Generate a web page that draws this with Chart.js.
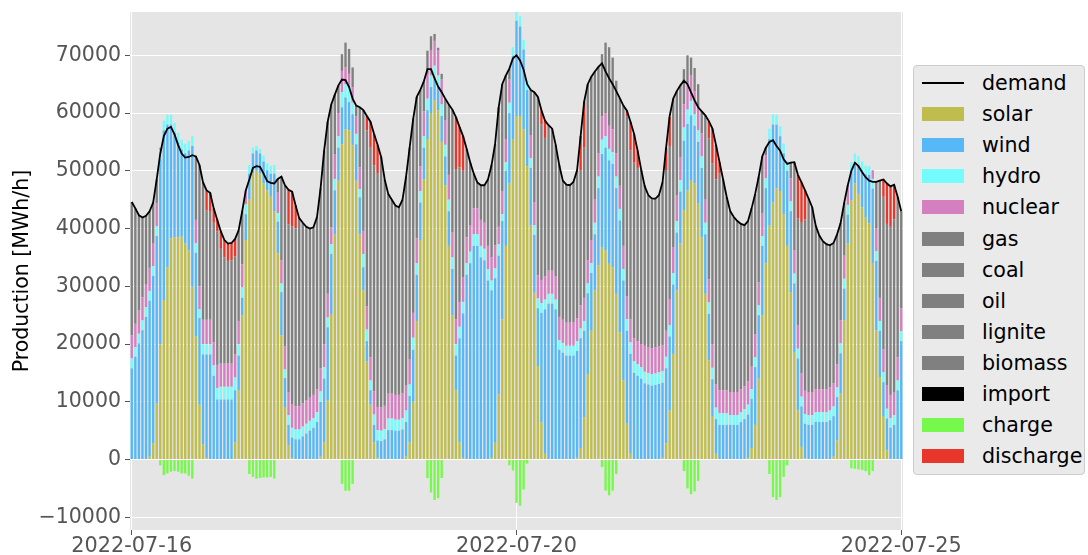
<!DOCTYPE html>
<html>
<head>
<meta charset="utf-8">
<title>Production</title>
<script src="https://cdn.jsdelivr.net/npm/chart.js@4.4.0/dist/chart.umd.min.js"></script>
<style>
    body { margin: 0; background: #ffffff; font-family: 'DejaVu Sans', sans-serif; }
    #cadre { position: relative; width: 1088px; height: 555px; }
    #legende {
        position: absolute; left: 913px; top: 65px; width: 172px; height: 410px;
        background: #eaeaea; border: 1px solid #cccccc; border-radius: 4px; box-sizing: border-box;
    }
    .entree { position: absolute; left: 0; width: 100%; height: 30px; }
    .carre { position: absolute; left: 8px; top: 8px; width: 42px; height: 14px; }
    .trait { position: absolute; left: 8px; top: 14px; width: 42px; height: 2px; }
    .texte { position: absolute; left: 68px; top: 0; line-height: 30px; font-size: 20.6px; color: #000; }
</style>
</head>
<body>
<div id="cadre">
    <canvas id="productionChart" width="1088" height="555"></canvas>
    <div id="legende"></div>
</div>
<script>
// Valeurs horaires (MWh/h), 9 jours + 1 heure = 217 barres
const solar = [
    0,0,0,0,0,500,2800,9700,20000,27600,33300,38300,38500,38500,38600,37400,36200,29900,21300,9500,2600,300,0,0,
    0,0,0,0,0,3000,12000,25000,38000,45000,49500,50000,49500,47800,46600,45500,43000,35700,21500,9100,2500,300,0,0,
    0,0,0,0,0,500,3000,10200,25200,39000,48300,54600,57200,57000,54400,48300,39000,29300,17000,9500,3000,300,0,0,
    0,0,0,0,0,500,3000,10000,24000,38000,48500,55500,60000,62200,60500,55000,47500,37000,25000,12000,3000,300,0,0,
    0,0,0,0,0,300,2900,11300,24300,37000,47800,55500,59500,59500,57200,50800,40500,28900,16200,6400,1000,0,0,0,
    0,0,0,0,0,300,2000,7300,14800,22300,29300,33600,36800,36200,33900,33300,28700,22000,13700,6200,1000,0,0,0,
    0,0,0,0,0,300,2800,8500,18300,29300,37400,43200,46600,48400,47800,44300,38500,28700,17200,7400,1000,0,0,0,
    0,0,0,0,0,300,2000,6000,14000,25000,34000,40500,44500,47000,46500,42500,37000,29000,18500,8500,2200,200,0,0,
    0,0,0,0,0,500,3300,11400,24100,37400,44900,47800,46000,43700,42000,40900,33900,22400,14300,7400,1600,0,0,0,
    0
];
const wind = [
    15800,17800,20100,22400,24700,27000,29000,29000,32000,29400,24700,19700,18100,16400,15100,15600,17300,24400,14500,15000,15600,17900,18200,14500,
    10400,10400,10400,10400,10400,9000,6000,3000,4500,4500,3500,3500,3500,3800,3500,4000,6500,5500,7500,5000,3500,3500,3500,3500,
    4000,4500,5000,5500,6500,9500,11000,12700,10400,7600,5700,6400,5500,4900,5400,6300,6400,4000,3500,2500,3000,3000,3200,3500,
    5100,5100,5000,5000,5200,6000,8000,9000,8000,6500,5500,5000,4500,4000,4000,4500,5000,6000,8000,6000,18000,25000,32000,34000,
    37000,37000,35000,34500,31000,29000,28500,24000,17000,13000,12200,14400,16500,15500,13800,13200,10000,10000,10000,19000,25000,27000,27000,26000,
    19000,18500,18000,18000,18000,18500,19000,15000,14000,10000,9700,13400,16100,17800,17900,17900,18300,19400,17300,16100,17300,15000,14500,14000,
    13200,13000,12800,12900,13100,13000,13000,12800,12000,10000,9000,12000,11500,11200,10000,10700,12000,10300,8000,6500,6000,6000,6000,6000,
    6000,6000,6000,6500,7000,7500,8500,10000,11000,12000,13000,15000,13500,11000,9500,10500,13000,14000,12000,9000,7000,6000,6000,6000,
    6500,6500,6500,6500,6800,7000,7500,7000,5500,5000,5000,3600,5000,6400,7400,8400,13000,12000,8000,6000,5500,5500,6000,12000,
    20500
];
const hydro = [
    1700,1700,1700,1700,1700,1700,1700,1700,1500,1700,1700,1700,1700,1700,1700,1700,1700,1700,1700,1500,1800,1800,1800,1800,
    2000,2200,2200,2200,2200,2200,2000,1800,1700,1500,1000,800,800,1000,1200,1400,1500,1500,1500,1500,1700,1700,1700,1700,
    1700,1700,1700,1700,1700,1800,2000,1700,1700,2000,2000,2600,2300,2500,2000,1800,1400,2300,2000,1700,1800,1800,1800,1800,
    2000,2000,1900,1900,2000,2000,2000,2100,2000,2000,2000,2000,2000,2000,2000,2000,2000,2000,2000,2000,2000,2000,2000,2000,
    2000,2000,2000,2000,2000,1700,1700,2000,1200,1500,1800,1500,2000,1800,1700,1700,1700,1700,1700,1700,1700,1700,1700,1700,
    1700,1700,1700,1700,1700,1700,1700,1700,1700,1700,2000,2000,2500,2000,2000,2000,2000,2000,2000,2000,2000,2000,2000,2000,
    2000,2000,2000,2000,2000,2000,2000,2000,2000,2000,2000,2300,2500,2500,2000,2000,2000,2000,2000,2000,2000,2000,2000,2000,
    1700,1700,1700,1700,1700,1700,1700,1700,1700,1700,1700,1800,1800,1700,1700,1700,1700,1700,1700,1700,1700,1700,1700,1700,
    1700,1700,1700,1700,1700,1700,1700,1700,1700,1700,1600,1600,1500,1500,1500,1500,1700,1700,1700,1700,1700,1700,1700,1700,
    1700
];
const nuclear = [
    4000,4000,4000,4000,4000,4000,4000,4000,500,0,0,0,0,0,0,0,0,0,4000,4000,4200,4200,4200,4000,
    4000,4000,4000,4000,4000,4000,4000,4000,2400,0,0,0,0,0,0,0,0,3500,4000,4000,4000,4000,4000,4000,
    4000,4000,4000,4000,4000,4000,4000,4100,2900,4300,4000,3700,2900,2400,2700,3000,3800,4000,4000,4000,4000,4000,4000,4000,
    4300,4300,4300,4300,4300,4300,4300,4300,4300,4300,4300,4300,4300,4300,4300,4300,4300,4300,4300,4300,4300,4300,4500,4500,
    4500,4500,4500,4500,4000,4000,4000,3000,4000,4000,4000,0,0,0,0,0,4000,4000,4000,4000,4000,4000,4000,4000,
    4000,4000,4000,4000,4000,4000,4000,4000,4000,4000,4000,4000,4000,4000,4000,4000,4000,4000,4000,4000,4000,4000,4000,4000,
    4500,4500,4500,4500,4500,4500,4500,4500,4500,4500,4000,4000,4500,4500,4000,4000,4000,4000,4000,4000,4000,4000,4000,4000,
    4000,4000,4000,4000,4000,4000,4000,4000,4000,4000,4000,0,0,0,0,0,0,4000,4000,4000,4000,4000,4000,4000,
    4000,4000,4000,4000,4000,4000,4000,4000,4000,3400,0,0,0,0,0,0,1500,4000,4000,4000,4000,4000,4000,4000,
    4000
];
// les cinq gris ne se distinguent pas sur l'image : tout le gris empilé est mis dans "gas"
const gas = [
    23100,20000,16500,13800,11800,9800,7000,4100,0,0,0,0,0,0,0,0,0,0,11000,21000,23800,18900,18700,20700,
    23100,19900,18400,17800,17900,17000,15700,9200,0,0,0,0,0,0,0,0,0,2400,14500,27900,29000,30900,30800,32600,
    31300,30100,29300,29000,29800,31200,33500,29800,21300,10300,4800,2900,4300,4300,3400,1900,10400,20900,30500,36300,39100,40400,43400,39200,
    34600,33600,32700,32400,33500,36200,36700,33700,24500,13200,5200,4000,2500,1200,500,1000,3700,12200,21300,26000,23300,18400,15300,11000,
    6000,4500,6000,6500,11500,16000,17600,19700,18500,11000,1900,0,0,0,0,0,7800,19000,30900,26900,24000,25200,24600,22800,
    26300,24100,23900,23800,24400,25600,23300,26000,30500,28300,22200,15000,10800,12200,13600,12400,12600,15200,24300,31100,29200,30400,30000,30200,
    27800,26300,25700,25700,26300,28200,27700,26500,25700,18000,12400,6100,4900,3000,4000,4000,3800,14600,24400,31400,35500,37500,36500,33500,
    31300,30300,29600,28600,27900,27800,27300,24300,18300,9800,1300,0,0,0,0,0,0,2700,15300,18600,26100,29700,33500,32000,
    28300,26600,25600,25100,24600,24300,22500,16900,9200,0,0,0,0,0,0,0,0,8000,20300,26400,28000,29100,29900,27800,
    16800
];
const coal = [
    0,0,0,0,0,0,0,0,0,0,0,0,0,0,0,0,0,0,0,0,0,0,0,0, 0,0,0,0,0,0,0,0,0,0,0,0,0,0,0,0,0,0,0,0,0,0,0,0,
    0,0,0,0,0,0,0,0,0,0,0,0,0,0,0,0,0,0,0,0,0,0,0,0, 0,0,0,0,0,0,0,0,0,0,0,0,0,0,0,0,0,0,0,0,0,0,0,0,
    0,0,0,0,0,0,0,0,0,0,0,0,0,0,0,0,0,0,0,0,0,0,0,0, 0,0,0,0,0,0,0,0,0,0,0,0,0,0,0,0,0,0,0,0,0,0,0,0,
    0,0,0,0,0,0,0,0,0,0,0,0,0,0,0,0,0,0,0,0,0,0,0,0, 0,0,0,0,0,0,0,0,0,0,0,0,0,0,0,0,0,0,0,0,0,0,0,0,
    0,0,0,0,0,0,0,0,0,0,0,0,0,0,0,0,0,0,0,0,0,0,0,0, 0
];
const oil = [
    0,0,0,0,0,0,0,0,0,0,0,0,0,0,0,0,0,0,0,0,0,0,0,0, 0,0,0,0,0,0,0,0,0,0,0,0,0,0,0,0,0,0,0,0,0,0,0,0,
    0,0,0,0,0,0,0,0,0,0,0,0,0,0,0,0,0,0,0,0,0,0,0,0, 0,0,0,0,0,0,0,0,0,0,0,0,0,0,0,0,0,0,0,0,0,0,0,0,
    0,0,0,0,0,0,0,0,0,0,0,0,0,0,0,0,0,0,0,0,0,0,0,0, 0,0,0,0,0,0,0,0,0,0,0,0,0,0,0,0,0,0,0,0,0,0,0,0,
    0,0,0,0,0,0,0,0,0,0,0,0,0,0,0,0,0,0,0,0,0,0,0,0, 0,0,0,0,0,0,0,0,0,0,0,0,0,0,0,0,0,0,0,0,0,0,0,0,
    0,0,0,0,0,0,0,0,0,0,0,0,0,0,0,0,0,0,0,0,0,0,0,0, 0
];
const lignite = [
    0,0,0,0,0,0,0,0,0,0,0,0,0,0,0,0,0,0,0,0,0,0,0,0, 0,0,0,0,0,0,0,0,0,0,0,0,0,0,0,0,0,0,0,0,0,0,0,0,
    0,0,0,0,0,0,0,0,0,0,0,0,0,0,0,0,0,0,0,0,0,0,0,0, 0,0,0,0,0,0,0,0,0,0,0,0,0,0,0,0,0,0,0,0,0,0,0,0,
    0,0,0,0,0,0,0,0,0,0,0,0,0,0,0,0,0,0,0,0,0,0,0,0, 0,0,0,0,0,0,0,0,0,0,0,0,0,0,0,0,0,0,0,0,0,0,0,0,
    0,0,0,0,0,0,0,0,0,0,0,0,0,0,0,0,0,0,0,0,0,0,0,0, 0,0,0,0,0,0,0,0,0,0,0,0,0,0,0,0,0,0,0,0,0,0,0,0,
    0,0,0,0,0,0,0,0,0,0,0,0,0,0,0,0,0,0,0,0,0,0,0,0, 0
];
const biomass = [
    0,0,0,0,0,0,0,0,0,0,0,0,0,0,0,0,0,0,0,0,0,0,0,0, 0,0,0,0,0,0,0,0,0,0,0,0,0,0,0,0,0,0,0,0,0,0,0,0,
    0,0,0,0,0,0,0,0,0,0,0,0,0,0,0,0,0,0,0,0,0,0,0,0, 0,0,0,0,0,0,0,0,0,0,0,0,0,0,0,0,0,0,0,0,0,0,0,0,
    0,0,0,0,0,0,0,0,0,0,0,0,0,0,0,0,0,0,0,0,0,0,0,0, 0,0,0,0,0,0,0,0,0,0,0,0,0,0,0,0,0,0,0,0,0,0,0,0,
    0,0,0,0,0,0,0,0,0,0,0,0,0,0,0,0,0,0,0,0,0,0,0,0, 0,0,0,0,0,0,0,0,0,0,0,0,0,0,0,0,0,0,0,0,0,0,0,0,
    0,0,0,0,0,0,0,0,0,0,0,0,0,0,0,0,0,0,0,0,0,0,0,0, 0
];
const imports = [
    0,0,0,0,0,0,0,0,0,0,0,0,0,0,0,0,0,0,0,0,0,0,0,0, 0,0,0,0,0,0,0,0,0,0,0,0,0,0,0,0,0,0,0,0,0,0,0,0,
    0,0,0,0,0,0,0,0,0,0,0,0,0,0,0,0,0,0,0,0,0,0,0,0, 0,0,0,0,0,0,0,0,0,0,0,0,0,0,0,0,0,0,0,0,0,0,0,0,
    0,0,0,0,0,0,0,0,0,0,0,0,0,0,0,0,0,0,0,0,0,0,0,0, 0,0,0,0,0,0,0,0,0,0,0,0,0,0,0,0,0,0,0,0,0,0,0,0,
    0,0,0,0,0,0,0,0,0,0,0,0,0,0,0,0,0,0,0,0,0,0,0,0, 0,0,0,0,0,0,0,0,0,0,0,0,0,0,0,0,0,0,0,0,0,0,0,0,
    0,0,0,0,0,0,0,0,0,0,0,0,0,0,0,0,0,0,0,0,0,0,0,0, 0
];
const charge = [
    0,0,0,0,0,0,0,0,-1000,-2700,-2400,-2100,-2000,-2100,-2400,-2400,-2800,-3300,0,0,0,0,0,0,
    0,0,0,0,0,0,0,0,0,-2500,-3000,-3300,-3200,-3100,-3100,-3000,-3300,0,0,0,0,0,0,0,
    0,0,0,0,0,0,0,0,0,0,0,-4200,-5400,-5400,-4200,0,0,0,0,0,0,0,0,0,
    0,0,0,0,0,0,0,0,0,0,0,-3200,-5700,-7000,-6700,-3200,0,0,0,0,0,0,0,0,
    0,0,0,0,0,0,0,0,0,0,-1000,-1900,-7500,-8000,-5200,-700,0,0,0,0,0,0,0,0,
    0,0,0,0,0,0,0,0,0,0,0,0,-1300,-5400,-6200,-5400,-2500,0,0,0,0,0,0,0,
    0,0,0,0,0,0,0,0,0,0,0,-2000,-5000,-6000,-5500,-3700,0,0,0,0,0,0,0,0,
    0,0,0,0,0,0,0,0,0,0,0,-2500,-6500,-7000,-6500,-3000,-1000,0,0,0,0,0,0,0,
    0,0,0,0,0,0,0,0,0,0,-1500,-1600,-1700,-1800,-2000,-2700,-2000,0,0,0,0,0,0,0,
    0
];
const discharge = [
    0,0,0,0,0,0,0,0,0,0,0,0,0,0,0,0,0,0,0,0,0,3500,3300,2500,
    2000,3000,3000,3000,3000,3000,0,0,0,0,0,0,0,0,0,0,0,0,0,0,6000,6000,4000,0,
    0,0,0,0,0,0,0,0,0,0,0,0,0,0,0,0,0,0,2500,4500,5500,5000,0,0,
    0,0,0,0,0,0,0,0,0,0,0,0,0,0,0,0,0,0,0,9000,7000,6000,0,0,
    0,0,0,0,0,0,0,1000,0,0,0,0,0,0,0,0,0,0,0,2500,3000,0,0,0,
    0,0,0,0,0,0,6000,8000,0,0,0,0,0,0,0,0,0,0,0,1000,5000,5000,3000,0,
    0,0,0,0,0,0,4000,5000,0,0,0,0,0,0,0,0,0,0,3000,6000,6000,2000,0,0,
    0,0,0,0,0,0,0,0,0,0,0,0,0,0,0,0,0,0,0,7500,7000,5000,0,0,
    0,0,0,0,0,0,0,0,0,0,0,0,0,0,0,0,0,0,0,3000,7000,7000,6000,0,
    0
];
const demand = [
    44600,43500,42300,41900,42200,43000,44500,48500,53000,56000,57300,57600,56300,54500,53000,52300,52400,52700,52500,51000,48000,46600,46200,43500,
    41500,39500,38000,37400,37500,38200,39700,43000,46600,48500,50500,50800,50700,49500,48200,47900,47800,48600,49000,47500,46700,46400,44000,41800,
    41000,40300,40000,40200,42000,47000,53500,58500,61500,63200,64800,65800,65700,64500,62500,61300,61000,60500,59500,58500,56400,54500,52400,48500,
    46000,45000,44000,43700,45000,49000,54000,59000,62800,64000,65500,67600,67600,66000,64600,63600,62500,61500,60600,59300,57600,56000,53800,51500,
    49500,48000,47500,47500,48500,51000,54700,61000,65000,66500,67700,69500,70000,69100,67500,65000,64000,63600,62800,60500,58700,57900,57300,54500,
    51000,48300,47600,47500,48100,50100,56000,62000,65000,66300,67200,68000,68600,67200,66000,65000,63800,62600,61300,60400,58500,56400,53500,50200,
    47300,45800,45200,45200,45800,48000,54000,59500,62500,63800,64800,65600,65000,63600,62200,61000,60300,59600,58600,57300,54500,51500,48500,45500,
    43000,42000,41300,40800,40600,41300,43500,46000,49000,52500,54000,55000,55300,54300,53500,52000,51200,51400,51500,49300,48000,46600,45200,43700,
    40500,38800,37800,37300,37100,37500,39000,41000,44500,47500,50000,51400,50800,49800,48900,48300,48100,48100,48300,48500,47800,47300,47600,45500,
    43000
];

// graduations de l'axe x (positions en barres) et leurs textes
const tickPos = [0, 108, 216];
const tickText = ['2022-07-16', '2022-07-20', '2022-07-25'];
// graduations de l'axe y
const yTicks = [-10000, 0, 10000, 20000, 30000, 40000, 50000, 60000, 70000];

const POLICE = 'DejaVu Sans';
const GRIS = '#808080';

const series = [
    { label: 'solar', data: solar, color: '#bfbd4d' },
    { label: 'wind', data: wind, color: '#56b8f6' },
    { label: 'hydro', data: hydro, color: '#74fbfc' },
    { label: 'nuclear', data: nuclear, color: '#d47fbf' },
    { label: 'gas', data: gas, color: GRIS },
    { label: 'coal', data: coal, color: GRIS },
    { label: 'oil', data: oil, color: GRIS },
    { label: 'lignite', data: lignite, color: GRIS },
    { label: 'biomass', data: biomass, color: GRIS },
    { label: 'import', data: imports, color: '#000000' },
    { label: 'charge', data: charge, color: '#76f84c' },
    { label: 'discharge', data: discharge, color: '#e8362a' }
];

// fond gris de la zone de tracé (style ggplot)
const fondGris = {
    id: 'fondGris',
    beforeDraw(chart) {
        const a = chart.chartArea;
        const ctx = chart.ctx;
        ctx.save();
        ctx.fillStyle = '#e5e5e5';
        ctx.fillRect(a.left, a.top, a.right - a.left, a.bottom - a.top);
        ctx.restore();
    }
};

function creerGraphique() {
    const ctx = document.getElementById('productionChart');
    const heures = demand.map((_, i) => i);

    const datasets = [{
        type: 'line',
        label: 'demand',
        data: demand,
        borderColor: '#000000',
        borderWidth: 1.8,
        pointRadius: 0,
        tension: 0,
        fill: false,
        stack: 'demande',
        order: 0
    }];
    series.forEach(s => {
        datasets.push({
            type: 'bar',
            label: s.label,
            data: s.data,
            backgroundColor: s.color,
            borderWidth: 0,
            barPercentage: 0.66,
            categoryPercentage: 1.0,
            stack: 'production',
            order: 1
        });
    });

    new Chart(ctx, {
        data: { labels: heures, datasets: datasets },
        plugins: [fondGris],
        options: {
            responsive: false,
            animation: false,
            layout: { padding: { left: 0, top: 12, right: 185, bottom: 0 } },
            plugins: {
                legend: { display: false },
                tooltip: { enabled: false }
            },
            scales: {
                x: {
                    stacked: true,
                    offset: true,
                    border: { display: false },
                    grid: {
                        offset: false,
                        lineWidth: 1,
                        color: c => tickPos.includes(c.index) ? '#ffffff' : 'rgba(0,0,0,0)',
                        tickColor: c => tickPos.includes(c.index) ? '#555555' : 'rgba(0,0,0,0)',
                        tickLength: 5
                    },
                    ticks: {
                        autoSkip: false,
                        maxRotation: 0,
                        minRotation: 0,
                        padding: -1,
                        color: '#555555',
                        font: { family: POLICE, size: 20.8 },
                        callback: (v, i) => {
                            const k = tickPos.indexOf(i);
                            return k >= 0 ? tickText[k] : '';
                        }
                    },
                    afterFit: s => { s.height = 25; }
                },
                y: {
                    type: 'linear',
                    stacked: true,
                    min: -12200,
                    max: 77500,
                    border: { display: false },
                    grid: { lineWidth: 1, color: '#ffffff', tickColor: '#555555', tickLength: 5 },
                    // graduations imposées : les bornes min/max ne tombent pas sur un multiple de 10000
                    afterBuildTicks: s => { s.ticks = yTicks.map(v => ({ value: v })); },
                    ticks: {
                        autoSkip: false,
                        padding: 4,
                        color: '#555555',
                        font: { family: POLICE, size: 20.5 },
                        callback: v => v < 0 ? '\u2212' + Math.abs(v) : String(v)
                    },
                    title: {
                        display: true,
                        text: 'Production [MWh/h]',
                        color: '#000000',
                        font: { family: POLICE, size: 20.5 },
                        padding: { top: 10, bottom: 0 }
                    },
                    afterFit: s => {
                        s.width = 130;
                        s.paddingTop = 0;
                        s.paddingBottom = 0;
                    }
                }
            }
        }
    });
}

// légende à droite, même ordre que l'original
function creerLegende() {
    const boite = document.getElementById('legende');
    const entrees = [{ label: 'demand', color: '#000000', ligne: true }].concat(series);
    entrees.forEach((e, i) => {
        const div = document.createElement('div');
        div.className = 'entree';
        div.style.top = (2 + i * 31.1) + 'px';
        div.innerHTML = `<span class="${e.ligne ? 'trait' : 'carre'}" style="background:${e.color}"></span>` +
                        `<span class="texte">${e.label}</span>`;
        boite.appendChild(div);
    });
}

creerGraphique();
creerLegende();
</script>
</body>
</html>
